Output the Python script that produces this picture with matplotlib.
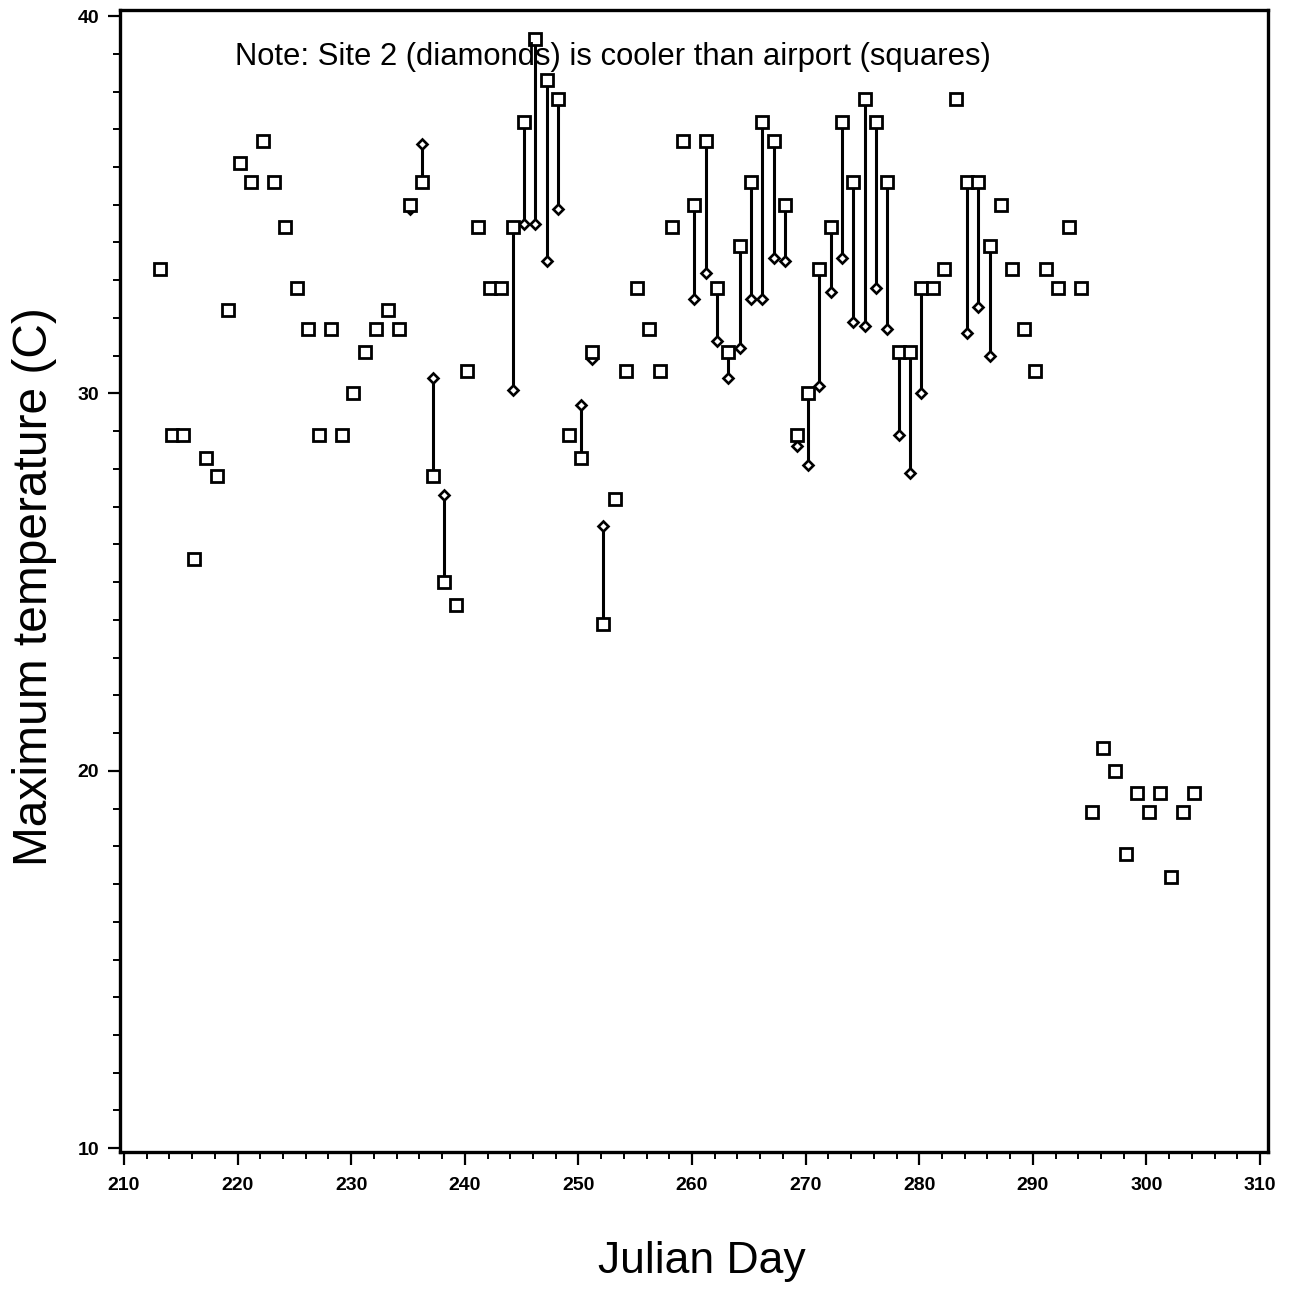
import matplotlib
matplotlib.use("Agg")
import matplotlib.pyplot as plt
from matplotlib.ticker import MultipleLocator

plt.rcParams['font.family'] = ['Liberation Sans', 'DejaVu Sans']

# Airport (squares): Julian day and max temperature (C)
airport_days = list(range(213, 305))
airport_temp = [
    33.3, 28.9, 28.9, 25.6, 28.3, 27.8, 32.2, 36.1, 35.6, 36.7,   # 213-222
    35.6, 34.4, 32.8, 31.7, 28.9, 31.7, 28.9, 30.0, 31.1, 31.7,   # 223-232
    32.2, 31.7, 35.0, 35.6, 27.8, 25.0, 24.4, 30.6, 34.4, 32.8,   # 233-242
    32.8, 34.4, 37.2, 39.4, 38.3, 37.8, 28.9, 28.3, 31.1, 23.9,   # 243-252
    27.2, 30.6, 32.8, 31.7, 30.6, 34.4, 36.7, 35.0, 36.7, 32.8,   # 253-262
    31.1, 33.9, 35.6, 37.2, 36.7, 35.0, 28.9, 30.0, 33.3, 34.4,   # 263-272
    37.2, 35.6, 37.8, 37.2, 35.6, 31.1, 31.1, 32.8, 32.8, 33.3,   # 273-282
    37.8, 35.6, 35.6, 33.9, 35.0, 33.3, 31.7, 30.6, 33.3, 32.8,   # 283-292
    34.4, 32.8, 18.9, 20.6, 20.0, 17.8, 19.4, 18.9, 19.4, 17.2,   # 293-302
    18.9, 19.4,                                                   # 303-304
]

# Site 2 (diamonds): days with data and max temperature (C)
site2_days = [235, 236, 237, 238, 244, 245, 246, 247, 248, 250, 251, 252,
              260, 261, 262, 263, 264, 265, 266, 267, 268, 269, 270, 271,
              272, 273, 274, 275, 276, 277, 278, 279, 280, 284, 285, 286]
site2_temp = [34.9, 36.6, 30.4, 27.3, 30.1, 34.5, 34.5, 33.5, 34.9, 29.7, 30.9, 26.5,
              32.5, 33.2, 31.4, 30.4, 31.2, 32.5, 32.5, 33.6, 33.5, 28.6, 28.1, 30.2,
              32.7, 33.6, 31.9, 31.8, 32.8, 31.7, 28.9, 27.9, 30.0, 31.6, 32.3, 31.0]

x_ticks = [210, 220, 230, 240, 250, 260, 270, 280, 290, 300, 310]
y_ticks = [10, 20, 30, 40]

X_SHIFT = 0.2  # plotting position offset of the scanned points

fig = plt.figure(figsize=(12.9, 12.89), dpi=100)
ax = fig.add_axes([120/1290, 1 - 1152/1289, (1268-120)/1290, (1152-10)/1289])

lookup = dict(zip(airport_days, airport_temp))
paired_air = [lookup[d] for d in site2_days]
ax.vlines([d + X_SHIFT for d in site2_days], paired_air, site2_temp,
          colors='black', linewidth=2.2, zorder=2)
ax.plot([d + X_SHIFT for d in site2_days], site2_temp, linestyle='none',
        marker='D', markersize=5.2, markerfacecolor='white',
        markeredgecolor='black', markeredgewidth=1.9, zorder=3)
ax.plot([d + X_SHIFT for d in airport_days], airport_temp, linestyle='none',
        marker='s', markersize=8.3, markerfacecolor='white',
        markeredgecolor='black', markeredgewidth=2.0, zorder=4)

ax.set_xlim(209.65, 310.7)
ax.set_ylim(9.9, 40.16)
ax.set_xticks(x_ticks)
ax.set_yticks(y_ticks)
ax.xaxis.set_minor_locator(MultipleLocator(2))
ax.yaxis.set_minor_locator(MultipleLocator(1))
ax.tick_params(axis='both', which='major', direction='out', length=9, width=1.6,
               labelsize=14, color='black')
ax.tick_params(axis='both', which='minor', direction='out', length=5, width=1.4)
ax.tick_params(axis='x', which='major', pad=9)
ax.tick_params(axis='y', which='major', pad=6)
for lab in ax.get_xticklabels() + ax.get_yticklabels():
    lab.set_fontweight('bold')
for sp in ax.spines.values():
    sp.set_linewidth(2.4)

fig.text(235/1290, 1 - 57/1289,
         'Note: Site 2 (diamonds) is cooler than airport (squares)',
         fontsize=22.3, ha='left', va='center')
fig.text(35/1290, 1 - 587/1289, 'Maximum temperature (C)', fontsize=34.5,
         rotation=90, ha='center', va='center')
fig.text(702/1290, 1 - 1273/1289, 'Julian Day', fontsize=32,
         ha='center', va='baseline')

fig.savefig('out.png', dpi=100, facecolor='white')
